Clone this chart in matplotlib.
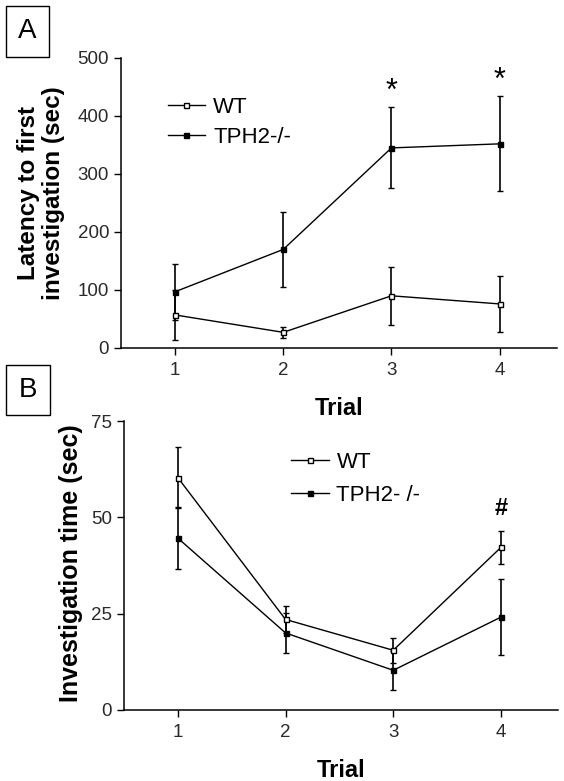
import numpy as np
import matplotlib.pyplot as plt
from matplotlib.patches import Rectangle
from matplotlib.lines import Line2D

plt.rcParams['font.family'] = ['Liberation Sans', 'DejaVu Sans']

trials = [1, 2, 3, 4]
groups = ['WT', 'TPH2-/-']

# panel A: latency to first investigation (sec)
lat_wt = [57, 27, 90, 76]
lat_wt_err = [43, 9, 50, 48]
lat_ko = [97, 170, 345, 352]
lat_ko_err = [48, 64, 70, 82]
lat_marks = ['*', '*']
lat_mark_x = [3, 4]
lat_mark_y = [442, 461]

# panel B: investigation time (sec)
inv_wt = [60.3, 23.5, 15.5, 42.2]
inv_wt_err = [8, 3.4, 3.3, 4.2]
inv_ko = [44.6, 20, 10.3, 24.1]
inv_ko_err = [8, 5.3, 5.1, 9.8]
inv_marks = ['#']
inv_mark_x = [4]
inv_mark_y = [52.4]

W, H = 564, 781
fig = plt.figure(figsize=(W / 100, H / 100), dpi=100)

def fx(px):
    return px / W

def fy(py):
    return 1 - py / H

axA = fig.add_axes([fx(121), fy(348), fx(557) - fx(121), fy(58) - fy(348)])
axB = fig.add_axes([fx(124), fy(710), fx(558) - fx(124), fy(421) - fy(710)])

MS = 3.6


def panel(ax, wt, wt_err, ko, ko_err, ylim, yticks):
    eb = dict(color='black', lw=1.0, capsize=2.0, capthick=1.0, elinewidth=1.2)
    ax.errorbar(trials, ko, yerr=ko_err, marker='s', ms=MS, mfc='black', mec='black', **eb)
    ax.errorbar(trials, wt, yerr=wt_err, marker='s', ms=MS, mfc='white', mec='black',
                mew=1.0, **eb)
    ax.set_xlim(0.5, 4.53)
    ax.set_ylim(*ylim)
    ax.set_xticks(trials)
    ax.set_yticks(yticks)
    for s in ['top', 'right']:
        ax.spines[s].set_visible(False)
    for s in ['left', 'bottom']:
        ax.spines[s].set_linewidth(1.1)
    ax.tick_params(axis='both', length=5, width=1.0, labelsize=13.5, labelcolor='#2a2a2a')
    ax.tick_params(axis='x', pad=5)
    ax.tick_params(axis='y', pad=3.5)
    ax.set_xlabel('Trial', fontsize=17, fontweight='bold')
    ax.xaxis.set_label_coords(0.5, -0.168)


def legend(ax, labels, anchor, spacing):
    handles = [Line2D([], [], color='black', lw=1.0, marker='s', ms=MS, mfc='white', mec='black'),
               Line2D([], [], color='black', lw=1.0, marker='s', ms=MS, mfc='black', mec='black')]
    ax.legend(handles, labels, loc='upper left', bbox_to_anchor=anchor,
              bbox_transform=ax.transData, frameon=False, fontsize=16,
              handlelength=1.7, handletextpad=0.35, labelspacing=spacing,
              borderpad=0, borderaxespad=0)


panel(axA, lat_wt, lat_wt_err, lat_ko, lat_ko_err, (0, 500), range(0, 501, 100))
legend(axA, groups, (0.93, 433), 0.4)
for m, x, y in zip(lat_marks, lat_mark_x, lat_mark_y):
    axA.text(x, y, m, ha='center', va='center', fontsize=22)

panel(axB, inv_wt, inv_wt_err, inv_ko, inv_ko_err, (0, 75), range(0, 76, 25))
legend(axB, ['WT', 'TPH2- /-'], (2.05, 67.0), 0.55)
for m, x, y in zip(inv_marks, inv_mark_x, inv_mark_y):
    axB.text(x, y, m, ha='center', va='center', fontsize=17, fontweight='bold')

fig.text(fx(41), fy(193), 'Latency to first\ninvestigation (sec)', rotation=90,
         ha='center', va='center', fontsize=17.5, fontweight='bold', linespacing=1.15)
fig.text(fx(71), fy(563), 'Investigation time (sec)', rotation=90,
         ha='center', va='center', fontsize=18, fontweight='bold')

# panel letters in boxes
for letter, (x0, y0, x1, y1) in [('A', (6, 6, 49, 57)), ('B', (6, 365, 50, 415))]:
    fig.add_artist(Rectangle((fx(x0), fy(y1)), fx(x1) - fx(x0), fy(y0) - fy(y1),
                             transform=fig.transFigure, fill=False, lw=1.0, ec='black'))
    fig.text(fx((x0 + x1) / 2), fy((y0 + y1) / 2), letter, ha='center', va='center', fontsize=20)

fig.savefig('out.png', dpi=100)
